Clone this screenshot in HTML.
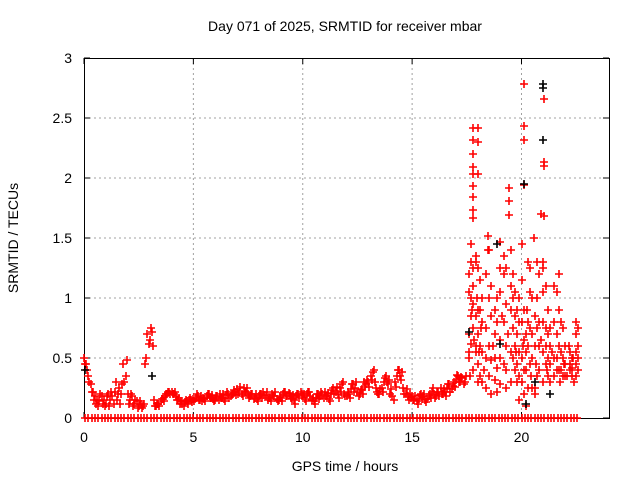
<!DOCTYPE html>
<html><head><meta charset="utf-8">
<style>
html,body{margin:0;padding:0;background:#fff;}
svg{display:block;font-family:"Liberation Sans",sans-serif;}
</style></head>
<body>
<svg id="chart" width="640" height="480" viewBox="0 0 640 480">
<rect width="640" height="480" fill="#fff"/>
<text x="345" y="31" font-size="14" text-anchor="middle" fill="#000">Day 071 of 2025, SRMTID for receiver mbar</text>
<text x="345" y="471" font-size="14" text-anchor="middle" fill="#000">GPS time / hours</text>
<text x="0" y="0" font-size="14" text-anchor="middle" fill="#000" transform="translate(18,238) rotate(-90)">SRMTID / TECUs</text>
<g id="grid"></g>
<g id="axes"></g>
<g id="marks"></g>
</svg>
<script>
// ---- data ----
const xTicks = [0, 5, 10, 15, 20];
const yTicks = [0, 0.5, 1, 1.5, 2, 2.5, 3];
const yTickLabels = ["0", "0.5", "1", "1.5", "2", "2.5", "3"];
const baseStart = 0.0;
const baseStep = 0.1;
const baseA = [0.5,0.45,0.35,0.28,0.22,0.18,0.15,0.14,0.18,0.15,
0.12,0.2,0.15,0.18,0.22,0.15,0.25,0.2,0.45,0.35,
0.2,0.15,0.18,0.12,0.14,0.1,0.12,0.1,0.45,0.7,
0.65,0.72,0.15,0.1,0.12,0.14,0.16,0.18,0.2,0.22,
0.22,0.2,0.18,0.15,0.12,0.12,0.13,0.14,0.15,0.15,
0.16,0.17,0.18,0.15,0.14,0.16,0.18,0.2,0.17,0.16,
0.15,0.18,0.2,0.17,0.16,0.19,0.2,0.18,0.2,0.22,
0.24,0.22,0.2,0.25,0.22,0.2,0.18,0.2,0.17,0.16,
0.18,0.2,0.22,0.18,0.15,0.17,0.2,0.18,0.16,0.15,
0.17,0.2,0.22,0.18,0.2,0.16,0.15,0.18,0.2,0.22,
0.18,0.16,0.2,0.22,0.15,0.14,0.17,0.2,0.18,0.2,
0.22,0.18,0.16,0.2,0.25,0.22,0.2,0.25,0.28,0.2,
0.18,0.2,0.24,0.28,0.25,0.22,0.2,0.24,0.3,0.28,
0.3,0.35,0.38,0.3,0.22,0.2,0.25,0.3,0.35,0.28,
0.2,0.18,0.3,0.35,0.4,0.32,0.25,0.2,0.18,0.2,
0.18,0.15,0.14,0.16,0.2,0.18,0.15,0.16,0.2,0.22,
0.2,0.18,0.22,0.25,0.2,0.22,0.25,0.28,0.24,0.3,
0.32,0.35,0.3,0.33,0.3];
const baseB = [0.45,0.4,0.3,0.22,0.15,0.12,0.1,0.2,0.12,0.1,
0.18,0.1,0.22,0.12,0.3,0.2,0.12,0.28,0.3,0.48,
0.12,0.2,0.1,0.15,0.08,0.14,0.08,0.12,0.5,0.62,
0.75,0.6,0.1,0.12,0.1,0.16,0.14,0.2,0.22,0.2,
0.2,0.22,0.15,0.17,0.14,0.1,0.15,0.12,0.17,0.13,
0.14,0.2,0.15,0.18,0.17,0.14,0.2,0.17,0.19,0.14,
0.18,0.15,0.17,0.2,0.14,0.22,0.17,0.2,0.23,0.19,
0.2,0.26,0.18,0.22,0.25,0.17,0.2,0.16,0.2,0.14,
0.2,0.17,0.19,0.22,0.17,0.14,0.18,0.22,0.14,0.18,
0.14,0.22,0.18,0.21,0.17,0.19,0.12,0.2,0.17,0.2,
0.2,0.14,0.22,0.18,0.17,0.12,0.2,0.16,0.22,0.17,
0.18,0.21,0.14,0.23,0.2,0.26,0.17,0.22,0.3,0.18,
0.22,0.17,0.28,0.22,0.3,0.18,0.23,0.2,0.26,0.32,
0.26,0.32,0.4,0.25,0.2,0.24,0.22,0.33,0.3,0.32,
0.24,0.15,0.26,0.4,0.35,0.38,0.2,0.24,0.15,0.17,
0.15,0.18,0.12,0.19,0.16,0.2,0.13,0.18,0.17,0.25,
0.17,0.22,0.18,0.2,0.24,0.18,0.28,0.22,0.27,0.26,
0.36,0.3,0.34,0.28,0.35];
const stormT = [17.6,17.6,17.6,17.6,17.6,17.7,17.7,17.7,17.7,17.7,17.8,17.8,17.8,17.8,17.8,
17.9,17.9,17.9,17.9,17.9,18.0,18.0,18.0,18.0,18.0,18.1,18.1,18.1,18.1,18.2,18.2,18.2,18.2,
18.4,18.4,18.4,18.4,18.5,18.5,18.5,18.5,18.6,18.6,18.6,18.6,18.8,18.8,18.8,18.8,18.9,18.9,18.9,18.9,
19.0,19.0,19.0,19.0,19.0,19.2,19.2,19.2,19.2,19.3,19.3,19.3,19.3,19.3,19.5,19.5,19.5,19.5,19.5,
19.6,19.6,19.6,19.6,19.7,19.7,19.7,19.7,19.8,19.8,19.8,19.8,19.9,19.9,19.9,19.9,19.9,
20.0,20.0,20.0,20.0,20.0,20.1,20.1,20.1,20.1,20.2,20.2,20.2,20.2,20.3,20.3,20.3,20.3,
20.4,20.4,20.4,20.4,20.5,20.5,20.5,20.5,20.6,20.6,20.6,20.6,20.7,20.7,20.7,20.7,20.8,20.8,20.8,20.8,
21.0,21.0,21.0,21.0,21.0,21.0,21.1,21.1,21.1,21.1,21.2,21.2,21.2,21.2,21.3,21.3,21.3,21.3,
21.5,21.5,21.5,21.5,21.6,21.6,21.6,21.6,21.7,21.7,21.7,21.7,21.8,21.8,21.8,21.9,21.9,21.9,
22.0,22.0,22.0,22.2,22.2,22.2,22.3,22.3,22.3,22.5,22.5,22.5,22.5,22.5,22.6,22.6,22.6,22.6,
17.65,17.75,17.85,17.95,18.05,18.15,18.3,18.7,19.1,19.4,19.75,20.05,20.25,20.45,20.65,20.9,21.15,21.4,21.75,22.1,22.4,21.95,22.15,22.35];
const stormV = [0.5,0.55,0.7,1.05,1.2,0.62,0.85,1.0,1.3,1.45,0.75,1.1,1.25,0.4,0.95,
1.35,1.3,0.85,0.55,0.6,1.25,0.9,0.7,0.45,0.3,1.15,0.9,0.6,0.35,1.0,0.8,0.55,0.3,
1.2,0.75,0.5,0.25,1.4,1.0,0.6,0.35,1.1,0.85,0.48,0.2,0.9,0.7,0.5,0.32,1.0,0.8,0.42,0.22,
1.25,1.05,0.65,0.5,0.28,1.35,1.2,0.8,0.45,1.25,0.95,0.6,0.4,0.25,1.4,1.1,0.9,0.55,0.3,
1.2,1.0,0.75,0.5,1.05,0.85,0.6,0.4,0.9,0.7,0.45,0.3,1.0,0.8,0.55,0.35,0.15,
1.45,1.15,0.8,0.5,0.3,0.9,0.65,0.4,0.2,0.7,0.55,0.4,0.1,1.3,0.8,0.6,0.25,
1.25,1.05,0.75,0.45,1.0,0.7,0.5,0.25,0.85,0.6,0.25,0.2,1.3,1.0,0.75,0.35,1.2,0.8,0.6,0.4,
1.3,1.25,1.05,0.8,0.55,0.3,1.1,0.75,0.6,0.45,0.9,0.7,0.5,0.35,0.75,0.6,0.45,0.3,
1.1,0.8,0.5,0.35,1.05,0.7,0.5,0.4,1.2,0.9,0.6,0.4,0.8,0.55,0.4,0.75,0.5,0.35,
0.6,0.45,0.35,0.55,0.45,0.4,0.5,0.42,0.35,0.8,0.7,0.55,0.45,0.35,0.75,0.6,0.5,0.4,
0.35,0.9,0.65,1.0,0.55,0.75,0.4,0.6,0.85,0.7,0.55,0.6,0.9,0.35,0.45,0.65,0.4,0.55,0.3,0.35,0.3,0.45,0.6,0.5];
const spikeT = [17.76,17.76,17.76,17.76,17.76,17.76,17.76,17.76,17.76,18.0,18.0,18.0,18.45,18.45,19.0,19.45,19.45,19.45,20.1,20.1,20.1,20.1,21.05,21.05,21.05,21.05,20.55,20.9];
const spikeV = [2.42,2.32,2.2,2.09,2.03,1.93,1.84,1.73,1.67,2.42,2.3,2.03,1.52,1.4,1.47,1.92,1.81,1.69,2.78,2.43,2.32,1.94,2.66,2.13,2.1,1.68,1.5,1.7];
const blackT = [0.05,3.1,17.6,18.9,20.1,21.0,21.0,21.0,20.2,21.3,19.0,20.6];
const blackV = [0.4,0.35,0.72,1.45,1.95,2.78,2.75,2.32,0.12,0.2,0.62,0.3];
const zeroT = [0.05,0.2,0.35,0.5,0.65,0.8,0.95,1.1,1.25,1.4,1.55,1.7,1.85,2.0,2.15,2.3,2.45,2.6,2.75,2.9,3.05,3.2,3.35,3.5,3.65,3.8,3.95,4.1,4.25,4.4,4.55,4.7,4.85,5.0,5.15,5.3,5.45,5.6,5.75,5.9,6.05,6.2,6.35,6.5,6.65,6.8,6.95,7.1,7.25,7.4,7.55,7.7,7.85,8.0,8.15,8.3,8.45,8.6,8.75,8.9,9.05,9.2,9.35,9.5,9.65,9.8,9.95,10.1,10.25,10.4,10.55,10.7,10.85,11.0,11.15,11.3,11.45,11.6,11.75,11.9,12.05,12.2,12.35,12.5,12.65,12.8,12.95,13.1,13.25,13.4,13.55,13.7,13.85,14.0,14.15,14.3,14.45,14.6,14.75,14.9,15.05,15.2,15.35,15.5,15.65,15.8,15.95,16.1,16.25,16.4,16.55,16.7,16.85,17.0,17.15,17.3,17.45,17.6,17.75,17.9,18.05,18.2,18.35,18.5,18.65,18.8,18.95,19.1,19.25,19.4,19.55,19.7,19.85,20.0,20.15,20.3,20.45,20.6,20.75,20.9,21.05,21.2,21.35,21.5,21.65,21.8,21.95,22.1,22.25,22.4,22.55];

// ---- axes ----
const L = 84, R = 609, T = 58, B = 418;
const X0 = 0, X1 = 24, Y0 = 0, Y1 = 3;
function xs(t){ return L + (t - X0) / (X1 - X0) * (R - L); }
function ys(v){ return B - (v - Y0) / (Y1 - Y0) * (B - T); }
const NS = "http://www.w3.org/2000/svg";
function mk(tag, attrs, parent){
  const e = document.createElementNS(NS, tag);
  for (const k in attrs) e.setAttribute(k, attrs[k]);
  parent.appendChild(e);
  return e;
}
const grid = document.getElementById('grid');
const axes = document.getElementById('axes');
const marks = document.getElementById('marks');

xTicks.forEach(function(t){
  const x = xs(t);
  if (t > X0) {
    const g = mk('line', {x1:x, y1:T, x2:x, y2:B, stroke:'#a0a0a0', 'stroke-dasharray':'2,3', 'stroke-width':1}, grid);
    
    
  }
  const tk = mk('path', {d:'M'+x+' '+B+'v-6M'+x+' '+T+'v6', stroke:'#000', 'stroke-width':1}, axes);
  
  
  const lb = mk('text', {x:x, y:B+24, 'font-size':14, 'text-anchor':'middle', fill:'#000'}, axes);
  lb.textContent = String(t);
  
  
});
yTicks.forEach(function(v, i){
  const y = ys(v);
  if (v > Y0 && v < Y1) {
    const g = mk('line', {x1:L, y1:y, x2:R, y2:y, stroke:'#a0a0a0', 'stroke-dasharray':'2,3', 'stroke-width':1}, grid);
    
    
  }
  const tk = mk('path', {d:'M'+L+' '+y+'h6M'+R+' '+y+'h-6', stroke:'#000', 'stroke-width':1}, axes);
  
  
  const lb = mk('text', {x:L-12, y:y+5, 'font-size':14, 'text-anchor':'end', fill:'#000'}, axes);
  lb.textContent = yTickLabels[i];
  
  
});
const frame = mk('rect', {x:L+0.5, y:T+0.5, width:R-L, height:B-T, fill:'none', stroke:'#000', 'stroke-width':1}, axes);



function plus(t, v, color, name){
  const x = Math.round(xs(t)), y = Math.round(ys(v));
  const p = mk('path', {d:'M'+(x-4)+' '+y+'h8M'+x+' '+(y-4)+'v8', stroke:color, 'stroke-width':1.6, fill:'none'}, marks);
  
  
}
const RED = '#ff0000', BLK = '#000000';
zeroT.forEach(function(t){ plus(t, 0, RED, 'zero-point'); });
baseA.forEach(function(v, i){ plus(baseStart + i * baseStep, v, RED, 'baseline-point-a'); });
baseB.forEach(function(v, i){ plus(baseStart + i * baseStep + baseStep / 2, v, RED, 'baseline-point-b'); });
stormT.forEach(function(t, i){ plus(t, stormV[i], RED, 'storm-point'); });
spikeT.forEach(function(t, i){ plus(t, spikeV[i], RED, 'spike-point'); });
blackT.forEach(function(t, i){ plus(t, blackV[i], BLK, 'black-point'); });
</script>
</body></html>
